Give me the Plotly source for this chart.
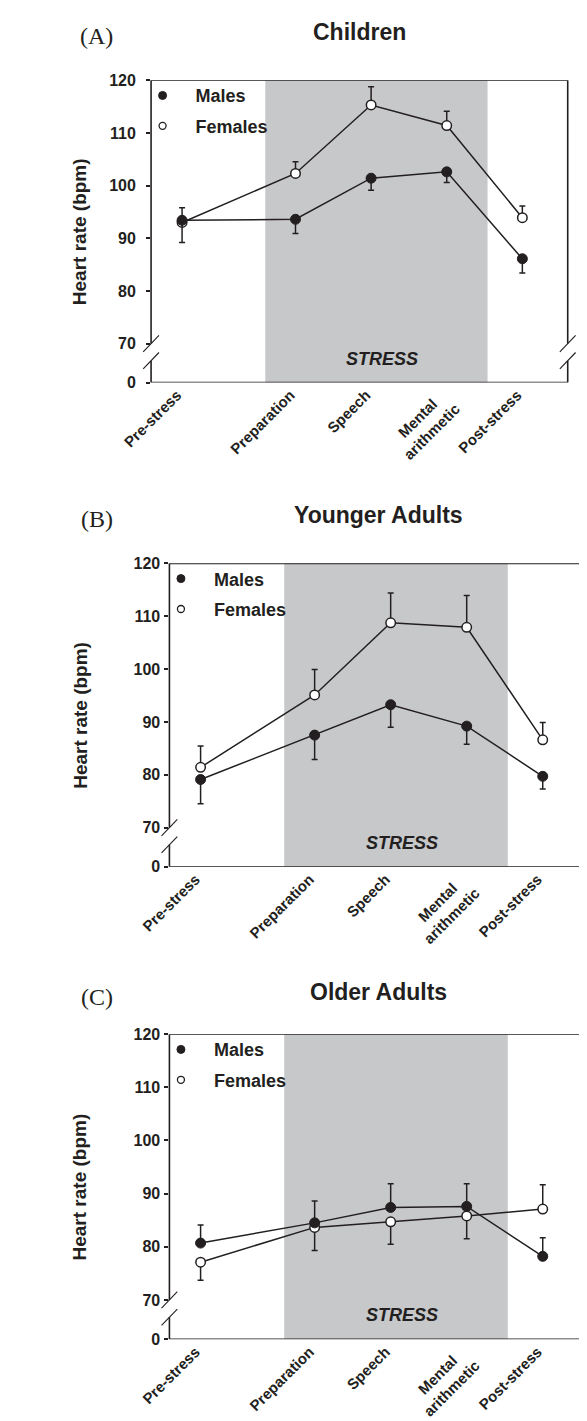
import plotly.graph_objects as go

# ---------------- data ----------------
categories = ['Pre-stress', 'Preparation', 'Speech', 'Mental\u00a0\u00a0\u00a0<br>arithmetic', 'Post-stress']
y_tick_values = [70, 80, 90, 100, 110, 120]
y_tick_labels = ['70', '80', '90', '100', '110', '120']

children_males = [93.4, 93.6, 101.4, 102.6, 86.1]
children_males_err_plus = [0, 0, 0, 0, 0]
children_males_err_minus = [4.2, 2.7, 2.3, 2.0, 2.7]
children_females = [93.0, 102.3, 115.3, 111.4, 93.9]
children_females_err_plus = [2.8, 2.2, 3.45, 2.7, 2.2]
children_females_err_minus = [0, 0, 0, 0, 0]

young_males = [79.1, 87.5, 93.25, 89.2, 79.7]
young_males_err_plus = [0, 0, 0, 0, 0]
young_males_err_minus = [4.6, 4.6, 4.25, 3.45, 2.4]
young_females = [81.4, 95.1, 108.75, 107.9, 86.6]
young_females_err_plus = [4.05, 4.8, 5.65, 6.0, 3.3]
young_females_err_minus = [0, 0, 0, 0, 0]

older_males = [80.7, 84.5, 87.4, 87.6, 78.2]
older_males_err_plus = [3.4, 4.1, 4.45, 4.25, 3.5]
older_males_err_minus = [0, 0, 0, 0, 0]
older_females = [77.1, 83.65, 84.7, 85.8, 87.1]
older_females_err_plus = [0, 0, 0, 0, 4.55]
older_females_err_minus = [3.4, 4.35, 4.2, 4.3, 0]

# ---------------- layout geometry ----------------
W, H = 587, 1421
x_positions = [0.5, 2, 3, 4, 5]
x_range = [0.09, 5.6]
stress_band = [1.6, 4.54]
y_zero_pos = 62.6          # where the "0" of the broken axis sits
y_break_low = 66.75
y_range = [y_zero_pos, 120]

FONT = 'Liberation Sans'
INK = '#231f20'
GRAY = '#c7c8ca'

panels = [
    dict(title='Children', label='(A)', px=(120, 558.3, 65, 371), title_y=16, label_y=20, ystand=7,
         m=children_males, mp=children_males_err_plus, mm=children_males_err_minus,
         f=children_females, fp=children_females_err_plus, fm=children_females_err_minus),
    dict(title='Younger Adults', label='(B)', px=(139.3, 580, 554, 861), title_y=505, label_y=509, ystand=1,
         m=young_males, mp=young_males_err_plus, mm=young_males_err_minus,
         f=young_females, fp=young_females_err_plus, fm=young_females_err_minus),
    dict(title='Older Adults', label='(C)', px=(139.3, 580, 1030.5, 1339.3), title_y=988, label_y=993, ystand=1,
         m=older_males, mp=older_males_err_plus, mm=older_males_err_minus,
         f=older_females, fp=older_females_err_plus, fm=older_females_err_minus),
]

fig = go.Figure()
shapes = []
annotations = []
layout = {}

for i, p in enumerate(panels):
    n = '' if i == 0 else str(i + 1)
    xa, ya = 'x' + n, 'y' + n
    leg = 'legend' + n
    left, right, top, bottom = p['px']
    xdom = [left / W, right / W]
    ydom = [1 - bottom / H, 1 - top / H]

    # data traces
    fig.add_trace(go.Scatter(
        x=x_positions, y=p['f'], xaxis=xa, yaxis=ya, mode='lines+markers',
        line=dict(color=INK, width=1.5),
        marker=dict(symbol='circle', size=9.5, color='white', line=dict(color=INK, width=1.5)),
        error_y=dict(type='data', symmetric=False, array=p['fp'], arrayminus=p['fm'],
                     color=INK, thickness=1.5, width=3),
        showlegend=False, cliponaxis=False))
    fig.add_trace(go.Scatter(
        x=x_positions, y=p['m'], xaxis=xa, yaxis=ya, mode='lines+markers',
        line=dict(color=INK, width=1.5),
        marker=dict(symbol='circle', size=10, color=INK, line=dict(color=INK, width=1)),
        error_y=dict(type='data', symmetric=False, array=p['mp'], arrayminus=p['mm'],
                     color=INK, thickness=1.5, width=3),
        showlegend=False, cliponaxis=False))
    # legend-only entries
    fig.add_trace(go.Scatter(
        x=[None], y=[None], xaxis=xa, yaxis=ya, mode='markers', name='Males',
        marker=dict(symbol='circle', size=8, color=INK, line=dict(color=INK, width=1)),
        legend=leg, legendgroup='m' + n, showlegend=True))
    fig.add_trace(go.Scatter(
        x=[None], y=[None], xaxis=xa, yaxis=ya, mode='markers', name='Females',
        marker=dict(symbol='circle', size=7, color='white', line=dict(color=INK, width=1.3)),
        legend=leg, legendgroup='f' + n, showlegend=True))

    layout['xaxis' + n] = dict(
        domain=xdom, anchor=ya, range=x_range, tickmode='array',
        tickvals=x_positions, ticktext=categories, tickangle=-45, ticks='',
        ticklabelshift=-5, ticklabelstandoff=0,
        showline=False, showgrid=False, zeroline=False,
        tickfont=dict(family=FONT, size=15, color=INK, weight='bold'))
    layout['yaxis' + n] = dict(
        domain=ydom, anchor=xa, range=y_range, tickmode='array',
        tickvals=[y_zero_pos] + y_tick_values, ticktext=['0'] + y_tick_labels,
        ticks='outside', ticklen=4, tickwidth=1.5, tickcolor=INK,
        ticklabelstandoff=p['ystand'],
        showline=False, showgrid=False, zeroline=False,
        tickfont=dict(family=FONT, size=16, color=INK, weight='bold'))

    pxu = (bottom - top) / (y_range[1] - y_range[0])  # px per unit
    dx = 8.3 / (right - left)
    dy = 8.3 / pxu
    line = dict(color=INK, width=1.6)
    xr, yr = xa + ' domain', ya
    # stress band
    shapes.append(dict(type='rect', xref=xa, yref=ya, x0=stress_band[0], x1=stress_band[1],
                       y0=y_range[0], y1=y_range[1], fillcolor=GRAY, line=dict(width=0),
                       layer='below'))
    # frame with broken side axes
    shapes.append(dict(type='line', xref=xr, yref=yr, x0=0, x1=1, y0=120, y1=120, line=line))
    shapes.append(dict(type='line', xref=xr, yref=yr, x0=0, x1=1, y0=y_zero_pos, y1=y_zero_pos, line=line))
    for xx in (0, 1):
        shapes.append(dict(type='line', xref=xr, yref=yr, x0=xx, x1=xx, y0=70, y1=120, line=line))
        shapes.append(dict(type='line', xref=xr, yref=yr, x0=xx, x1=xx, y0=y_zero_pos, y1=y_break_low, line=line))
        for yc in (70, y_break_low):
            shapes.append(dict(type='line', xref=xr, yref=yr, x0=xx - dx, x1=xx + dx,
                               y0=yc - dy, y1=yc + dy, line=dict(color=INK, width=1.1)))

    cx = (xdom[0] + xdom[1]) / 2
    annotations.append(dict(text='<b>' + p['title'] + '</b>', x=cx, y=1 - p['title_y'] / H,
                            xref='paper', yref='paper', showarrow=False, xanchor='center',
                            yanchor='middle', font=dict(family=FONT, size=23, color=INK)))
    annotations.append(dict(text=p['label'], x=63 / W, y=1 - p['label_y'] / H,
                            xref='paper', yref='paper', showarrow=False, xanchor='center',
                            yanchor='middle', font=dict(family='Liberation Serif', size=24, color=INK)))
    annotations.append(dict(text='<b>Heart rate (bpm)</b>', x=45 / W, y=(ydom[0] + ydom[1]) / 2,
                            xref='paper', yref='paper', showarrow=False, textangle=-90,
                            xanchor='center', yanchor='middle',
                            font=dict(family=FONT, size=19, color=INK)))
    annotations.append(dict(text='<b><i>STRESS</i></b>', x=3.15, y=67.1, xref=xa, yref=ya,
                            showarrow=False, xanchor='center', yanchor='middle',
                            font=dict(family=FONT, size=18, color=INK)))

    layout[leg] = dict(x=(left - 22.6) / W, y=1 - (top - 3) / H, xanchor='left', yanchor='top',
                       bgcolor='rgba(0,0,0,0)', borderwidth=0, itemwidth=56,
                       tracegroupgap=4, font=dict(family=FONT, size=18, color=INK, weight='bold'))

fig.update_layout(
    width=W, height=H, margin=dict(l=0, r=0, t=0, b=0),
    paper_bgcolor='white', plot_bgcolor='rgba(0,0,0,0)',
    shapes=shapes, annotations=annotations, **layout)

fig.write_html('out.html')
